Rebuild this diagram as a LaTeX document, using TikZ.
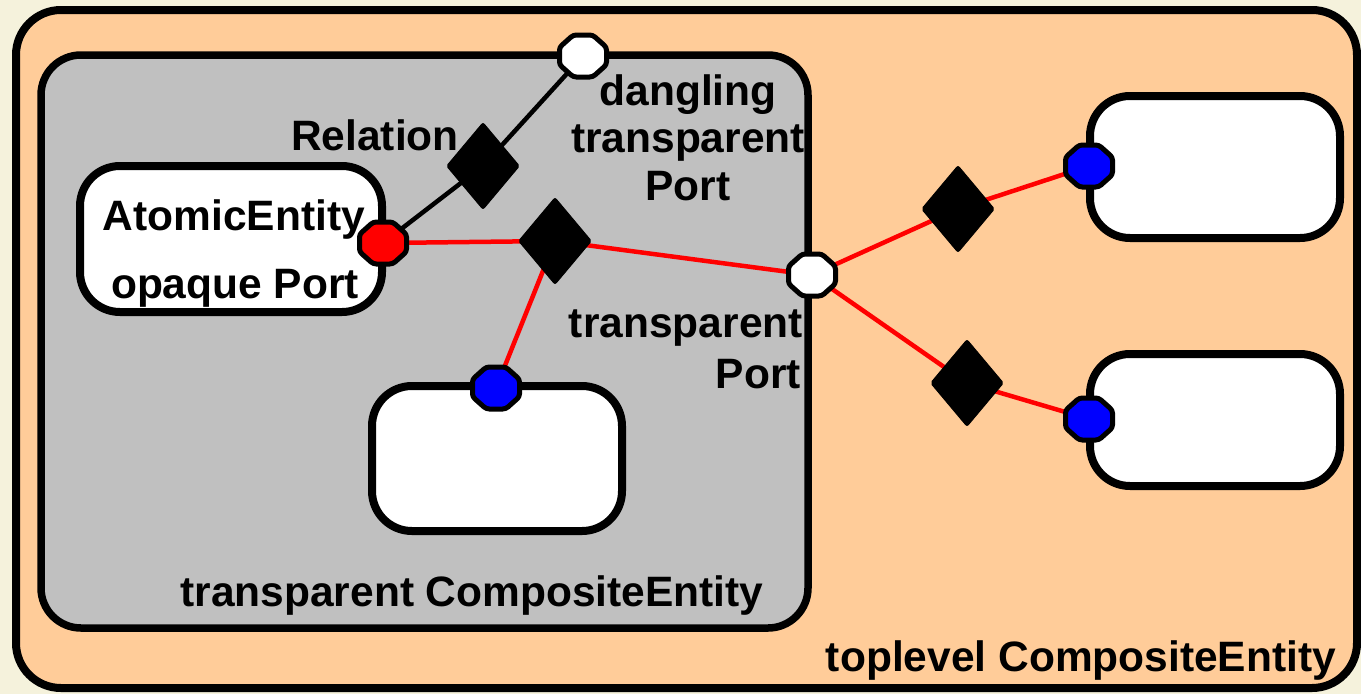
\documentclass[tikz,border=0pt]{standalone}
\usepackage{fontspec}
\setmainfont{Liberation Sans}
\usetikzlibrary{shapes.geometric}
\definecolor{paper}{RGB}{245,242,220}
\definecolor{peach}{RGB}{255,204,153}
\definecolor{silver}{RGB}{192,192,192}
\definecolor{wirered}{RGB}{255,0,0}
\definecolor{portblue}{RGB}{0,0,255}
\pgfdeclarelayer{back}
\pgfdeclarelayer{wires}
\pgfsetlayers{back,wires,main}
\begin{document}
\begin{tikzpicture}[x=1pt,y=-1pt,
  container/.style={draw=black,line width=8pt,rounded corners=45pt,inner sep=0pt},
  entity/.style={draw=black,line width=8pt,rounded corners=40pt,fill=white,inner sep=0pt},
  portnode/.style={ellipse,inner sep=0pt,minimum width=47pt,minimum height=42pt},
  octagon/.style={draw=black,line width=5pt,rounded corners=3pt},
  relation/.style={diamond,fill=black,draw=black,line width=1pt,rounded corners=2pt,inner sep=0pt,minimum width=73pt,minimum height=87pt},
  wire/.style={line width=4.5pt},
  redwire/.style={wire,draw=wirered},
  lbl/.style={font=\fontsize{42.5}{48}\selectfont\bfseries,inner sep=0pt,anchor=base}
]
\useasboundingbox (0,0) rectangle (1361,694);

\begin{pgfonlayer}{back}
  \fill[paper] (0,0) rectangle (1361,694);
  % toplevel and transparent composite entities
  \node[container,fill=peach,minimum width=1341pt,minimum height=678pt] (toplevel) at (686.5,349) {};
  \node[container,line width=7.5pt,rounded corners=40pt,fill=silver,minimum width=767pt,minimum height=573pt] (composite) at (424.5,341.5) {};
  % entities
  \node[entity,minimum width=302pt,minimum height=146pt] (atomic) at (231,239) {};
  \node[entity,minimum width=250pt,minimum height=145pt] (inner) at (497,458.5) {};
  \node[entity,minimum width=250pt,minimum height=142pt] (rightA) at (1215,167) {};
  \node[entity,minimum width=250pt,minimum height=132pt] (rightB) at (1215,420) {};
\end{pgfonlayer}

% relations
\node[relation] (relA) at (483,166) {};
\node[relation] (relB) at (555,241) {};
\node[relation] (relC) at (958,209) {};
\node[relation] (relD) at (967,383) {};

% ports
\node[portnode] (opaque) at (383,243) {};
\node[portnode] (dangling) at (583,56) {};
\node[portnode] (transp) at (812,275) {};
\node[portnode] (innerport) at (496,388) {};
\node[portnode] (portA) at (1089,166) {};
\node[portnode] (portB) at (1089,419) {};
\foreach \p/\c in {opaque/wirered,dangling/white,transp/white,innerport/portblue,portA/portblue,portB/portblue}
  \draw[octagon,fill=\c,shift={(\p.center)}]
    (-23.5,-8.7) -- (-9.7,-21) -- (9.7,-21) -- (23.5,-8.7) -- (23.5,8.7) -- (9.7,21) -- (-9.7,21) -- (-23.5,8.7) -- cycle;

% links
\begin{pgfonlayer}{wires}
  \draw[wire] (opaque.center) -- (relA.center) -- (dangling.center);
  \draw[redwire] (opaque.center) -- (relB.center) -- (transp.center);
  \draw[redwire] (relB.center) -- (innerport.center);
  \draw[redwire] (transp.center) -- (relC.center) -- (portA.center);
  \draw[redwire] (transp.center) -- (relD.center) -- (portB.center);
\end{pgfonlayer}

% labels
\node[lbl] (tAtomic) at (234,230) {AtomicEntity};
\node[lbl] (tOpaque) at (235,298) {opaque Port};
\node[lbl] (tRelation) at (375,150) {Relation};
\node[lbl] (tDang1) at (688,105) {dangling};
\node[lbl] (tDang2) at (688,152) {transparent};
\node[lbl] (tDang3) at (688,200) {Port};
\node[lbl,anchor=base east] (tTransp1) at (803,337) {transparent};
\node[lbl,anchor=base east] (tTransp2) at (801,388) {Port};
\node[lbl] (tComposite) at (472,606) {transparent CompositeEntity};
\node[lbl] (tToplevel) at (1081,671) {toplevel CompositeEntity};
\end{tikzpicture}
\end{document}
